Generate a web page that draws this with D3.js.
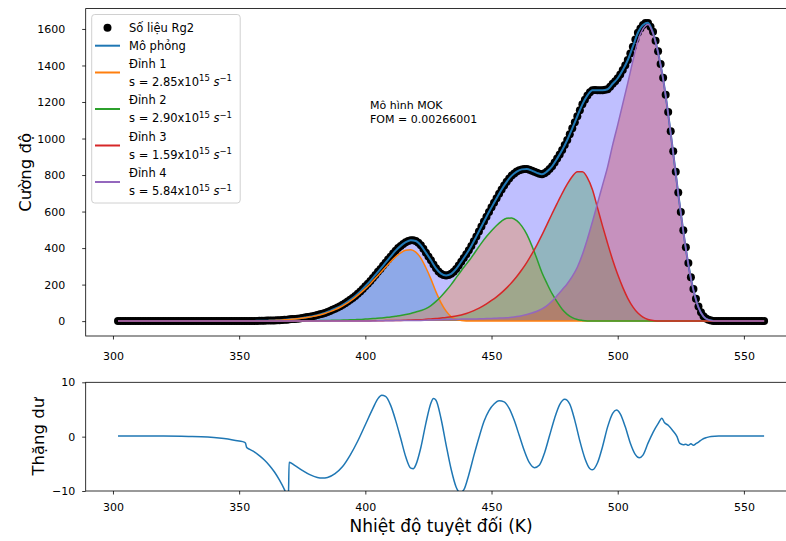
<!DOCTYPE html>
<html><head><meta charset="utf-8">
<script src="https://cdn.jsdelivr.net/npm/d3@7"></script>
<style>body{margin:0;background:#fff} text{font-family:"DejaVu Sans",sans-serif;fill:#000}</style>
</head><body><svg id="c" width="786" height="541"></svg>
<script>
// ---------------- DATA ----------------
// measured glow curve (Số liệu Rg2): T from 302 K, step 1 K
const dataStartT = 302, dataStepT = 1;
const dataV = [
0,0,0,0,0,0,0,0,0,0,          // 302-311
0,0,0,0,0,0,0,0,0,0,          // 312-321
0,0,0,0,0,0,0,0,0,0,          // 322-331
0,0,0,0,0,0,0,0,0,0,          // 332-341
0,0,0,0,0,0,0,0,0,0,          // 342-351
1,1,1,1,1,1,2,2,2,3,          // 352-361
3,3,4,5,5,6,7,8,10,11,        // 362-371
12,13,15,17,20,22,24,27,30,33,// 372-381
37,41,45,50,56,62,68,74,81,89,// 382-391
98,107,117,127,138,150,162,176,191,205,   // 392-401
220,236,253,270,286,303,320,337,353,370,  // 402-411
386,400,412,423,432,439,443,443,439,429,  // 412-421
415,396,375,354,333,310,289,272,260,253,  // 422-431
250,253,259,271,286,305,325,345,366,388,  // 432-441
412,437,464,491,518,545,572,598,623,648,  // 442-451
673,697,721,743,763,781,797,809,819,826,  // 452-461
831,833,833,829,824,818,812,807,804,810,  // 462-471
820,833,848,868,890,913,937,964,992,1024, // 472-481
1056,1089,1122,1155,1187,1213,1236,1253,1265,1266, // 482-491
1265,1265,1265,1267,1270,1284,1300,1314,1330,1351, // 492-501
1375,1401,1430,1465,1503,1542,1579,1603,1622,1632, // 502-511
1632,1612,1585,1535,1478,1408,1333,1240,1145,1040, // 512-521
930,818,705,598,498,405,318,240,176,122,  // 522-531
80,48,27,14,7,3,1,0,0,0,      // 532-541
0,0,0,0,0,0,0,0,0,0,          // 542-551
0,0,0,0,0,0,0                 // 552-558
];

// fitted component peaks: T from 302 K, step 2 K
const peakStartT = 302, peakStepT = 2;
const peak1 = [
0,0,0,0,0,0,0,0,0,0,   // 302-320
0,0,0,0,0,0,0,0,0,0,   // 322-340
0,0,0,0,0,1,1,1,2,2,   // 342-360
3,4,5,7,9,11,14,18,22,28,          // 362-380
34,42,52,63,76,92,110,130,153,178, // 382-400
205,235,265,295,325,352,374,388,391,378, // 402-420
345,292,230,160,100,55,25,10,4,1,  // 422-440
0,0,0,0,0,0,0,0,0,0,   // 442-460
0,0,0,0,0,0,0,0,0,0,   // 462-480
0,0,0,0,0,0,0,0,0,0,   // 482-500
0,0,0,0,0,0,0,0,0,0,   // 502-520
0,0,0,0,0,0,0,0,0,0,   // 522-540
0,0,0,0,0,0,0,0,0      // 542-558
];
const peak2 = [
0,0,0,0,0,0,0,0,0,0,   // 302-320
0,0,0,0,0,0,0,0,0,0,   // 322-340
0,0,0,0,0,0,0,0,0,0,   // 342-360
0,0,0,0,1,1,1,2,2,2,   // 362-380
3,3,4,5,5,6,7,8,9,11,  // 382-400
13,15,17,20,23,27,31,36,42,50,        // 402-420
58,68,85,108,135,166,200,238,276,312, // 422-440
348,388,427,463,495,524,548,563,565,550, // 442-460
520,475,412,340,265,205,150,105,65,37,   // 462-480
19,9,4,1,0,0,0,0,0,0,  // 482-500
0,0,0,0,0,0,0,0,0,0,   // 502-520
0,0,0,0,0,0,0,0,0,0,   // 522-540
0,0,0,0,0,0,0,0,0      // 542-558
];
const peak3 = [
0,0,0,0,0,0,0,0,0,0,   // 302-320
0,0,0,0,0,0,0,0,0,0,   // 322-340
0,0,0,0,0,0,0,0,0,0,   // 342-360
0,0,0,0,0,0,0,0,0,0,   // 362-380
0,0,0,0,0,0,0,0,0,1,   // 382-400
1,2,2,3,3,4,4,5,6,7,   // 402-420
8,10,12,14,17,20,24,28,34,42,         // 422-440
52,64,78,95,113,133,156,182,211,244,  // 442-460
281,322,368,418,472,530,588,645,700,750, // 462-480
792,818,818,785,720,620,520,425,335,255, // 482-500
185,125,78,44,22,9,3,1,0,0, // 502-520
0,0,0,0,0,0,0,0,0,0,   // 522-540
0,0,0,0,0,0,0,0,0      // 542-558
];
const peak4 = [
0,0,0,0,0,0,0,0,0,0,   // 302-320
0,0,0,0,0,0,0,0,0,0,   // 322-340
0,0,0,0,0,0,0,0,0,0,   // 342-360
0,0,0,0,0,0,0,0,0,0,   // 362-380
0,0,0,0,0,0,0,0,0,1,   // 382-400
1,1,2,2,2,3,3,3,4,4,   // 402-420
4,5,6,7,8,9,10,10,11,11,        // 422-440
12,12,13,14,15,16,17,18,21,25,  // 442-460
30,36,44,54,67,85,110,140,172,205,       // 462-480
245,295,365,450,545,645,745,845,965,1075, // 482-500
1190,1305,1425,1535,1600,1625,1575,1470,1325,1135, // 502-520
920,695,490,310,170,75,25,6,1,0, // 522-540
0,0,0,0,0,0,0,0,0      // 542-558
];

// residuals (Thặng dư)
const resT = [302,310,320,330,335,340,344,347,350,352,352.5,353,354,356,358,360,362,364,366,368,369.5,369.8,372,375,378,381,383,385,388,391,394,397,400,403,405,406.5,408,410,412,414,416,418,419,420,422,424,426,427,428,430,432,434,436,437.5,439,441,443,445,447,449,451,453,455,457,459,461,463,465,467,469,471,473,475,477,479,481,483,485,487,489,490,492,494,496,498,499.5,501,503,505,507,508.5,510,512,514,516,517.5,518.5,520,522,523.5,524.5,526,527,528,529,530,531,532,533.5,535,537,540,558];
const resV = [0.1,0.1,0.1,0.05,0,-0.15,-0.35,-0.55,-0.8,-1.0,-1.2,-2.0,-2.3,-2.8,-3.5,-4.3,-5.3,-6.5,-8.0,-9.8,-11.5,-4.7,-5.3,-6.2,-7.0,-7.5,-7.6,-7.5,-6.8,-5.5,-3.4,-0.8,2.2,5.2,7.0,7.6,7.4,5.8,3.0,-0.3,-3.7,-5.8,-5.9,-5.2,-2.0,2.5,6.2,7.0,6.7,3.3,-1.5,-6.0,-9.3,-10.3,-9.8,-7.0,-3.5,-0.2,2.8,4.8,6.0,6.6,6.4,5.2,3.0,0.2,-2.6,-4.8,-5.7,-5.2,-3.0,0.2,3.4,5.9,6.9,6.0,3.0,-0.8,-4.0,-5.9,-6.1,-4.8,-1.8,1.8,4.3,4.9,4.2,1.8,-1.2,-3.3,-3.9,-3.4,-1.2,0.8,2.4,3.4,2.6,2.1,1.0,0,-1.2,-1.5,-1.4,-1.6,-1.3,-1.6,-1.3,-1.0,-0.5,-0.2,0.05,0.1,0.1];

const xTicks = [300, 350, 400, 450, 500, 550];
const yTicksTop = [0, 200, 400, 600, 800, 1000, 1200, 1400, 1600];
const yTicksBot = [-10, 0, 10];
const peakNames = ["Đỉnh 1", "Đỉnh 2", "Đỉnh 3", "Đỉnh 4"];
const peakS = ["2.85", "2.90", "1.59", "5.84"];
const dataLabel = "Số liệu Rg2", fitLabel = "Mô phỏng";
const noteLines = ["Mô hình MOK", "FOM = 0.00266001"];
const xLabel = "Nhiệt độ tuyệt đối (K)", yLabelTop = "Cường độ", yLabelBot = "Thặng dư";

// ---------------- DRAW ----------------
const lineCols = ["#ff7f0e", "#2ca02c", "#d62728", "#9467bd"];
const fillCols = ["#1f77b4", "#ff7f0e", "#2ca02c", "#d62728"];
const svg = d3.select("#c");
const fmt = d3.format("d");

const data = dataV.map((v, i) => ({t: dataStartT + i * dataStepT, v}));
const peaks = [peak1, peak2, peak3, peak4];
const peakT = peak1.map((_, i) => peakStartT + i * peakStepT);
const fit = peakT.map((t, i) => ({t, v: d3.sum(peaks, p => p[i])}));
const peakSeries = peaks.map(p => p.map((v, i) => ({t: peakT[i], v})));
const res = resT.map((t, i) => ({t, v: resV[i]}));

const L = 85.7, R = 796.4;
const x = d3.scaleLinear().domain([289.2, 570.8]).range([L, R]);
const T1 = 8.6, B1 = 336;
const y1 = d3.scaleLinear().domain([-81.5, 1711.5]).range([B1, T1]);
const T2 = 382.3, B2 = 491;
const y2 = d3.scaleLinear().domain([-10, 10]).range([B2, T2]);

const curve = d3.curveMonotoneX;
const g1 = svg.append("g");

// fills
g1.append("path").datum(fit)
  .attr("d", d3.area().curve(curve).x(d => x(d.t)).y0(y1(0)).y1(d => y1(d.v)))
  .attr("fill", "blue").attr("fill-opacity", 0.25);
peakSeries.forEach((s, k) => {
  g1.append("path").datum(s)
    .attr("d", d3.area().curve(curve).x(d => x(d.t)).y0(y1(0)).y1(d => y1(d.v)))
    .attr("fill", fillCols[k]).attr("fill-opacity", 0.3);
});
// data points
g1.append("g").selectAll("circle").data(data).join("circle")
  .attr("cx", d => x(d.t)).attr("cy", d => y1(d.v)).attr("r", 4).attr("fill", "#000");
// fit & peaks lines
const ln1 = d3.line().curve(curve).x(d => x(d.t)).y(d => y1(d.v));
g1.append("path").datum(fit).attr("d", ln1).attr("fill", "none")
  .attr("stroke", "#1f77b4").attr("stroke-width", 2);
peakSeries.forEach((s, k) => {
  g1.append("path").datum(s).attr("d", ln1).attr("fill", "none")
    .attr("stroke", lineCols[k]).attr("stroke-width", 1.5);
});

// axes top
const ax1x = svg.append("g").attr("transform", `translate(0,${B1})`)
  .call(d3.axisBottom(x).tickValues(xTicks).tickFormat(fmt).tickSize(3.5).tickSizeOuter(0).tickPadding(13));
const ax1y = svg.append("g").attr("transform", `translate(${L},0)`)
  .call(d3.axisLeft(y1).tickValues(yTicksTop).tickFormat(fmt).tickSize(3.5).tickSizeOuter(0).tickPadding(17));
[ax1x, ax1y].forEach(a => { a.select(".domain").remove(); a.selectAll("text").attr("font-size", 11).attr("font-family", "DejaVu Sans"); a.selectAll("line").attr("stroke", "#000").attr("stroke-width", 0.8); });
svg.append("rect").attr("x", L).attr("y", T1).attr("width", R - L).attr("height", B1 - T1)
  .attr("fill", "none").attr("stroke", "#000").attr("stroke-width", 0.8);

// legend
const lg = svg.append("g");
lg.append("rect").attr("x", 91.7).attr("y", 14.5).attr("width", 148.5).attr("height", 188.5)
  .attr("rx", 3).attr("fill", "#fff").attr("fill-opacity", 0.8).attr("stroke", "#d0d0d0").attr("stroke-width", 1);
const tx = 129, lfs = 11.5;
lg.append("circle").attr("cx", 107.5).attr("cy", 27.7).attr("r", 4).attr("fill", "#000");
lg.append("text").attr("x", tx).attr("y", 27.7).attr("dy", "0.35em").attr("font-size", lfs).text(dataLabel);
lg.append("line").attr("x1", 95).attr("x2", 120).attr("y1", 45.7).attr("y2", 45.7).attr("stroke", "#1f77b4").attr("stroke-width", 2);
lg.append("text").attr("x", tx).attr("y", 45.7).attr("dy", "0.35em").attr("font-size", lfs).text(fitLabel);
const rowY = [63.5, 100, 136.5, 173];
peakNames.forEach((nm, k) => {
  const yy = rowY[k];
  lg.append("line").attr("x1", 95).attr("x2", 120).attr("y1", yy + 9).attr("y2", yy + 9)
    .attr("stroke", lineCols[k]).attr("stroke-width", 2);
  lg.append("text").attr("x", tx).attr("y", yy).attr("dy", "0.35em").attr("font-size", lfs).text(nm);
  const t = lg.append("text").attr("x", tx).attr("y", yy + 18).attr("dy", "0.35em").attr("font-size", lfs);
  t.append("tspan").text(`s = ${peakS[k]}x10`);
  t.append("tspan").attr("dy", -4.5).attr("font-size", 8.5).text("15");
  t.append("tspan").attr("dy", 4.5).text(" ");
  t.append("tspan").attr("font-style", "italic").text("s");
  t.append("tspan").attr("dy", -4.5).attr("font-size", 8.5).text("−1");
});

// annotation
noteLines.forEach((s, i) => {
  svg.append("text").attr("x", 370).attr("y", 105 + i * 14).attr("dy", "0.35em").attr("font-size", 11).text(s);
});

// ylabel top
svg.append("text").attr("transform", `translate(25,${(T1 + B1) / 2}) rotate(-90)`)
  .attr("text-anchor", "middle").attr("dy", "0.35em").attr("font-size", 16.5).text(yLabelTop);

// ---------------- residual panel ----------------
svg.append("clipPath").attr("id", "cp2").append("rect").attr("x", L).attr("y", T2).attr("width", R - L).attr("height", B2 - T2);
svg.append("path").datum(res).attr("clip-path", "url(#cp2)")
  .attr("d", d3.line().curve(curve).x(d => x(d.t)).y(d => y2(d.v)))
  .attr("fill", "none").attr("stroke", "#1f77b4").attr("stroke-width", 1.5);
const ax2x = svg.append("g").attr("transform", `translate(0,${B2})`)
  .call(d3.axisBottom(x).tickValues(xTicks).tickFormat(fmt).tickSize(3.5).tickSizeOuter(0).tickPadding(8.5));
const ax2y = svg.append("g").attr("transform", `translate(${L},0)`)
  .call(d3.axisLeft(y2).tickValues(yTicksBot).tickSize(3.5).tickSizeOuter(0).tickPadding(7));
[ax2x, ax2y].forEach(a => { a.select(".domain").remove(); a.selectAll("text").attr("font-size", 11).attr("font-family", "DejaVu Sans"); a.selectAll("line").attr("stroke", "#000").attr("stroke-width", 0.8); });
svg.append("rect").attr("x", L).attr("y", T2).attr("width", R - L).attr("height", B2 - T2)
  .attr("fill", "none").attr("stroke", "#000").attr("stroke-width", 0.8);
svg.append("text").attr("transform", `translate(38,${(T2 + B2) / 2}) rotate(-90)`)
  .attr("text-anchor", "middle").attr("dy", "0.35em").attr("font-size", 16.5).text(yLabelBot);
svg.append("text").attr("x", (L + R) / 2).attr("y", 526.5).attr("dy", "0.35em")
  .attr("text-anchor", "middle").attr("font-size", 17).text(xLabel);
</script></body></html>
